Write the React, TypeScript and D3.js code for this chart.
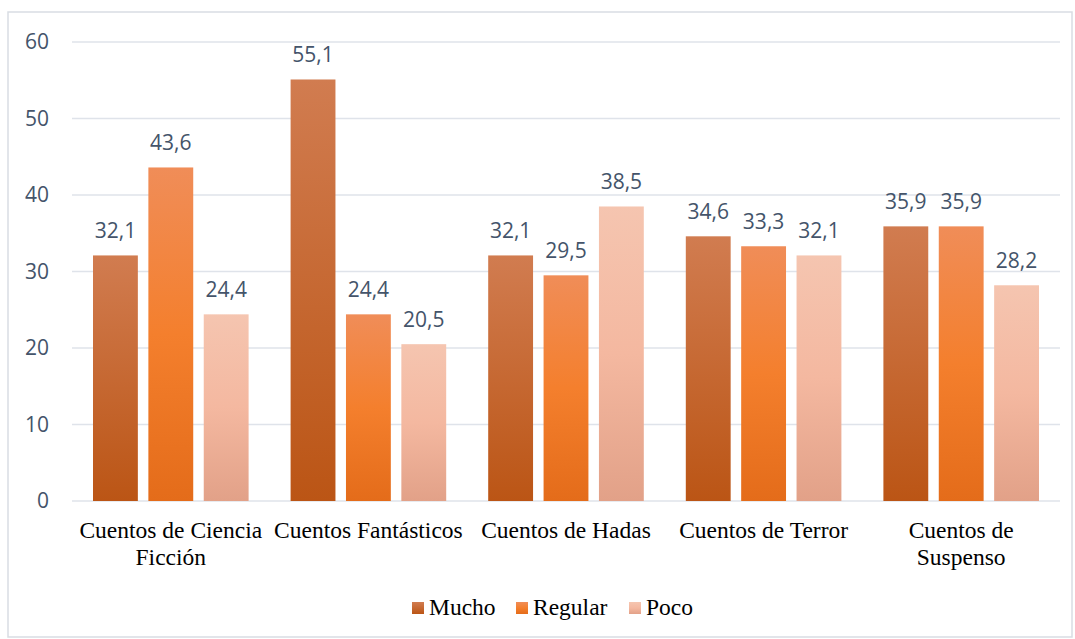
import React from "react";
import * as d3 from "d3";

const categories = [
  ["Cuentos de Ciencia", "Ficción"],
  ["Cuentos Fantásticos"],
  ["Cuentos de Hadas"],
  ["Cuentos de Terror"],
  ["Cuentos de", "Suspenso"],
];
const seriesNames = ["Mucho", "Regular", "Poco"];
const mucho = [32.1, 55.1, 32.1, 34.6, 35.9];
const regular = [43.6, 24.4, 29.5, 33.3, 35.9];
const poco = [24.4, 20.5, 38.5, 32.1, 28.2];
const yTicks = [0, 10, 20, 30, 40, 50, 60];

const gradients = [
  [["0%", "#d17c50"], ["100%", "#bb5515"]],
  [["0%", "#f08d58"], ["50%", "#f47f2d"], ["100%", "#e46c1a"]],
  [["0%", "#f5c5b0"], ["50%", "#f4b8a0"], ["100%", "#e2a188"]],
];

export default function App() {
  const W = 1075, H = 639;
  const left = 72, right = 1060, top = 42, bottom = 501;
  const series = [mucho, regular, poco];
  const x0 = d3.scaleBand<number>().domain(d3.range(categories.length)).range([left, right]).paddingInner(0).paddingOuter(0);
  const x1 = d3.scaleBand<number>().domain([0, 1, 2]).range([21, x0.bandwidth() - 21]).paddingInner(0.19);
  const y = d3.scaleLinear().domain([0, 60]).range([bottom, top]);
  const fmt = (v: number) => v.toFixed(1).replace(".", ",");
  const sans: React.CSSProperties = { fontFamily: '"Open Sans"', fontSize: "21px" };
  const serif: React.CSSProperties = { fontFamily: '"Liberation Serif"', fontSize: "23.5px" };

  const legendItems = [
    { x: 412, name: seriesNames[0] },
    { x: 516, name: seriesNames[1] },
    { x: 629, name: seriesNames[2] },
  ];

  return (
    <div style={{ position: "absolute", left: 0, top: 0 }}>
      <svg width={W} height={H} style={{ display: "block" }}>
        <defs>
          {gradients.map((g, i) => (
            <linearGradient key={i} id={`g${i}`} x1="0" y1="0" x2="0" y2="1">
              {g.map(([o, c], j) => <stop key={j} offset={o} stopColor={c} />)}
            </linearGradient>
          ))}
        </defs>
        <rect x={0} y={0} width={W} height={H} fill="#fff" />
        <rect x={8} y={12} width={1064} height={625} fill="none" stroke="#d9dde3" strokeWidth={1.5} />
        {yTicks.map((t) => (
          <g key={t}>
            <line x1={left} x2={right} y1={y(t)} y2={y(t)} stroke="#dfe3ea" strokeWidth={1.5} />
            <text x={49} y={y(t) + 7} textAnchor="end" style={sans} fill="#44546a">{t}</text>
          </g>
        ))}
        {categories.map((cat, ci) => (
          <g key={ci} transform={`translate(${x0(ci)},0)`}>
            {series.map((s, si) => {
              const bx = x1(si)!;
              const v = s[ci];
              return (
                <g key={si}>
                  <rect x={bx} y={y(v)} width={x1.bandwidth()} height={y(0) - y(v)} fill={`url(#g${si})`} />
                  <text x={bx + x1.bandwidth() / 2} y={y(v) - 17} textAnchor="middle" style={sans} fill="#44546a">{fmt(v)}</text>
                </g>
              );
            })}
            {cat.map((line, li) => (
              <text key={li} x={x0.bandwidth() / 2} y={538 + li * 27} textAnchor="middle" style={serif} fill="#000">{line}</text>
            ))}
          </g>
        ))}
        {legendItems.map((it, i) => (
          <g key={i}>
            <rect x={it.x} y={602} width={12} height={12} fill={`url(#g${i})`} />
            <text x={it.x + 17} y={615} style={serif} fill="#000">{it.name}</text>
          </g>
        ))}
      </svg>
    </div>
  );
}
